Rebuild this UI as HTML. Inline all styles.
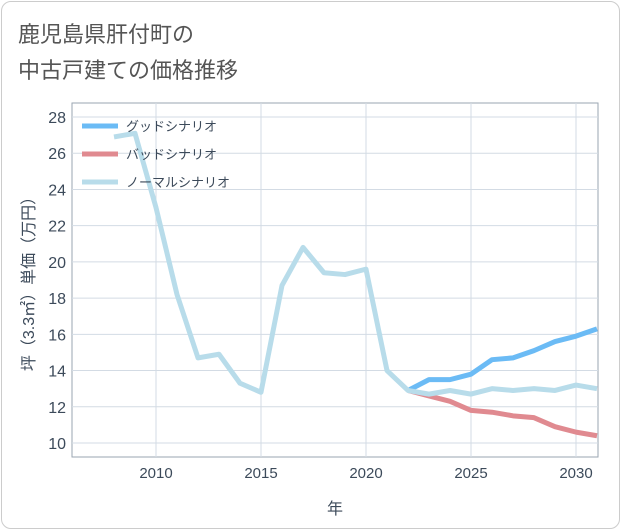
<!DOCTYPE html>
<html><head><meta charset="utf-8"><style>
body{margin:0;background:#fff;font-family:"Liberation Sans","Noto Sans CJK JP",sans-serif;}
#card{position:absolute;left:1px;top:1px;width:617px;height:526px;border:1px solid #ccc;border-radius:10px;background:#fff;}
</style></head><body>
<div id="card"></div>
<svg id="c" width="621" height="530" style="position:absolute;left:0;top:0">
<text x="18" y="42" font-size="22" fill="#555">鹿児島県肝付町の</text>
<text x="18" y="78" font-size="22" fill="#555">中古戸建ての価格推移</text>
<g id="plot"></g>
</svg>
<script>
const years=[2008,2009,2010,2011,2012,2013,2014,2015,2016,2017,2018,2019,2020,2021,2022,2023,2024,2025,2026,2027,2028,2029,2030,2031];
const normal=[26.9,27.1,23.0,18.2,14.7,14.9,13.3,12.8,18.7,20.8,19.4,19.3,19.6,14.0,12.9,12.7,12.9,12.7,13.0,12.9,13.0,12.9,13.2,13.0];
const fyears=[2022,2023,2024,2025,2026,2027,2028,2029,2030,2031];
const good=[12.9,13.5,13.5,13.8,14.6,14.7,15.1,15.6,15.9,16.3];
const bad=[12.9,12.6,12.3,11.8,11.7,11.5,11.4,10.9,10.6,10.4];
const xTicks=[2010,2015,2020,2025,2030];
const yTicks=[10,12,14,16,18,20,22,24,26,28];
const L=72,R=598,T=103,B=457;
const X=v=>156+(v-2010)*21;
const Y=v=>443-(v-10)*(326/18);
const ns="http://www.w3.org/2000/svg";
const g=document.getElementById('plot');
function el(t,a,p){const e=document.createElementNS(ns,t);for(const k in a)e.setAttribute(k,a[k]);(p||g).appendChild(e);return e;}
const bg=el('rect',{x:L,y:T,width:R-L,height:B-T,fill:'#fff',stroke:'#9aa6b2',"stroke-width":1});


xTicks.forEach(v=>{const l=el('line',{x1:X(v),x2:X(v),y1:T,y2:B,stroke:'#d3dbe4'});


const t=el('text',{x:X(v),y:478,"font-size":15,fill:'#3c4a5a',"text-anchor":'middle'});t.textContent=v;

});
yTicks.forEach(v=>{const l=el('line',{x1:L,x2:R,y1:Y(v),y2:Y(v),stroke:'#d3dbe4'});


const t=el('text',{x:66,y:Y(v)+6,"font-size":16,fill:'#3c4a5a',"text-anchor":'end'});t.textContent=v;

});
const xt=el('text',{x:335,y:514,"font-size":16,fill:'#3c4a5a',"text-anchor":'middle'});xt.textContent='年';


const yt=el('text',{x:0,y:0,"font-size":16,fill:'#3c4a5a',"text-anchor":'middle',transform:'translate(34,280) rotate(-90)'});yt.textContent='坪（3.3㎡）単価（万円）';


const cp=el('clipPath',{id:'cl'});el('rect',{x:L,y:T,width:R-L,height:B-T},cp);
function line(xs,ys,c,name){const p=el('polyline',{points:xs.map((x,i)=>X(x)+','+Y(ys[i])).join(' '),fill:'none',stroke:c,"stroke-width":5,"stroke-linejoin":'round',"clip-path":'url(#cl)'});

}
line(fyears,bad,'#e08a90','bad-scenario-line');
line(fyears,good,'#6bbbf5','good-scenario-line');
line(years,normal,'#b8dcea','normal-scenario-line');
[['グッドシナリオ','#6bbbf5'],['バッドシナリオ','#e08a90'],['ノーマルシナリオ','#b8dcea']].forEach((d,i)=>{const y=126+i*28;
const l=el('line',{x1:82,x2:118,y1:y,y2:y,stroke:d[1],"stroke-width":5});


const t=el('text',{x:126,y:y+5,"font-size":13,fill:'#3c4a5a'});t.textContent=d[0];

});
</script>
</body></html>
